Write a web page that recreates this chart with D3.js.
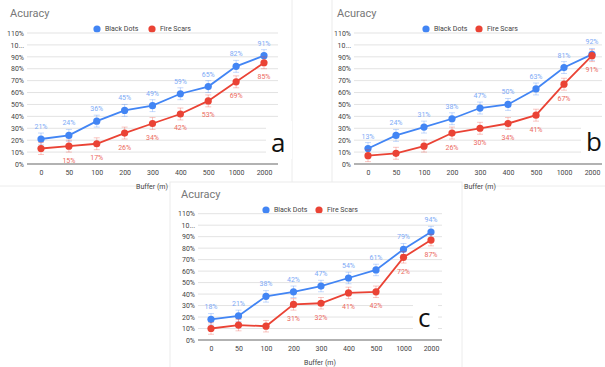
<!DOCTYPE html>
<html>
<head>
<meta charset="utf-8">
<script src="https://cdn.jsdelivr.net/npm/d3@7"></script>
<style>
  body { margin: 0; background: #fff; }
  svg { display: block; font-family: Roboto, Arial, sans-serif; }
</style>
</head>
<body>
<svg id="chart" width="605" height="367"></svg>
<script>
// Buffer distances (x categories)
const buffers = ["0", "50", "100", "200", "300", "400", "500", "1000", "2000"];
const yTicks = [0, 10, 20, 30, 40, 50, 60, 70, 80, 90, 100, 110];

// panel a
const dotsA = [21, 24, 36, 45, 49, 59, 65, 82, 91];
const scarsA = [13, 15, 17, 26, 34, 42, 53, 69, 85];
// panel b
const dotsB = [13, 24, 31, 38, 47, 50, 63, 81, 92];
const scarsB = [7, 9, 15, 26, 30, 34, 41, 67, 91];
// panel c
const dotsC = [18, 21, 38, 42, 47, 54, 61, 79, 94];
const scarsC = [10, 13, 12, 31, 32, 41, 42, 72, 87];

// which red labels are shown (google sheets hides colliding ones)
const scarLabelsA = [false, true, true, true, true, true, true, true, true];
const scarLabelsB = [false, false, false, true, true, true, true, true, true];
const scarLabelsC = [false, false, false, true, true, true, true, true, true];

const errHalf = 5; // half width of the faint error bars, in %

const blue = "#4285f4", red = "#ea4335";
const blueLbl = "#7eaaf6", redLbl = "#ec6a60";

const svg = d3.select("#chart");

function drawPanel(p) {
  const g = svg.append("g");

  // white backing for the panel
  g.append("rect")
    .attr("x", p.box[0]).attr("y", p.box[1])
    .attr("width", p.box[2]).attr("height", p.box[3])
    .attr("fill", "#fff").attr("stroke", "#ececec");

  const x = d3.scalePoint().domain(buffers).range(p.xRange);
  const y = d3.scaleLinear().domain([0, 110]).range(p.yRange);

  // title
  g.append("text")
    .attr("x", p.title[0]).attr("y", p.title[1])
    .attr("font-size", 11).attr("fill", "#777")
    .text("Acuracy");

  // legend
  const leg = g.append("g");
  [[blue, "Black Dots", p.legend[0]], [red, "Fire Scars", p.legend[1]]].forEach(function(l) {
    leg.append("circle").attr("cx", l[2]).attr("cy", p.legendY).attr("r", 3.6).attr("fill", l[0]);
    leg.append("text").attr("x", l[2] + 8).attr("y", p.legendY + 2.4)
      .attr("font-size", 7).attr("fill", "#444").text(l[1]);
  });

  // gridlines
  g.append("g")
    .selectAll("line")
    .data(yTicks.filter(t => t > 0))
    .enter().append("line")
      .attr("x1", p.grid[0]).attr("x2", p.grid[1])
      .attr("y1", d => y(d)).attr("y2", d => y(d))
      .attr("stroke", "#e3e3e3").attr("stroke-width", 1);

  // y axis labels
  const yAxis = g.append("g")
    .attr("transform", `translate(${p.grid[0] - 3},0)`)
    .call(d3.axisLeft(y).tickValues(yTicks).tickSize(0).tickPadding(0)
      .tickFormat(d => d === 100 ? "10..." : d + "%"));
  yAxis.select(".domain").remove();
  yAxis.selectAll("text").attr("font-size", 7).attr("fill", "#444").attr("font-family", "Roboto, Arial, sans-serif");

  // baseline
  g.append("line")
    .attr("x1", p.grid[0]).attr("x2", p.grid[1])
    .attr("y1", y(0)).attr("y2", y(0))
    .attr("stroke", "#999").attr("stroke-width", 1.5);

  // x axis labels
  const xAxis = g.append("g")
    .attr("transform", `translate(0,${y(0)})`)
    .call(d3.axisBottom(x).tickSize(0).tickPadding(6));
  xAxis.select(".domain").remove();
  xAxis.selectAll("text").attr("font-size", 7).attr("fill", "#444").attr("font-family", "Roboto, Arial, sans-serif");

  // x axis title
  g.append("text")
    .attr("x", p.xTitle[0]).attr("y", p.xTitle[1])
    .attr("text-anchor", "middle").attr("font-size", 7).attr("fill", "#444")
    .text("Buffer (m)");

  const line = d3.line().x((d, i) => x(buffers[i])).y(d => y(d));

  [[p.dots, blue, blueLbl, -1, null], [p.scars, red, redLbl, 1, p.scarLabels]].forEach(function(s) {
    const vals = s[0];
    const pts = vals.map((v, i) => ({ v: v, cat: buffers[i], show: s[4] === null || s[4][i] }));

    // faint error bars
    const eb = g.append("g").attr("stroke", s[1]).attr("stroke-opacity", 0.3).attr("stroke-width", 1);
    pts.forEach(function(d) {
      const cx = x(d.cat);
      eb.append("line").attr("x1", cx).attr("x2", cx).attr("y1", y(d.v - errHalf)).attr("y2", y(d.v + errHalf));
      eb.append("line").attr("x1", cx - 3).attr("x2", cx + 3).attr("y1", y(d.v - errHalf)).attr("y2", y(d.v - errHalf));
      eb.append("line").attr("x1", cx - 3).attr("x2", cx + 3).attr("y1", y(d.v + errHalf)).attr("y2", y(d.v + errHalf));
    });

    g.append("path").datum(vals)
      .attr("d", line).attr("fill", "none")
      .attr("stroke", s[1]).attr("stroke-width", 1.8);

    g.selectAll(null).data(pts).enter().append("circle")
      .attr("cx", d => x(d.cat)).attr("cy", d => y(d.v))
      .attr("r", 3.6).attr("fill", s[1]);

    g.selectAll(null).data(pts.filter(d => d.show)).enter()
      .append("text")
      .attr("x", d => x(d.cat))
      .attr("y", d => y(d.v) + (s[3] < 0 ? -10 : 16.5))
      .attr("text-anchor", "middle").attr("font-size", 7).attr("fill", s[2])
      .text(d => d.v + "%");
  });

  // letter tag on a white patch
  g.append("rect")
    .attr("x", p.tagBox[0]).attr("y", p.tagBox[1])
    .attr("width", p.tagBox[2]).attr("height", p.tagBox[3])
    .attr("fill", "#fff");
  g.append("text")
    .attr("x", p.tag[0]).attr("y", p.tag[1])
    .attr("font-size", 26).attr("fill", "#111")
    .attr("font-family", "'Open Sans', Arial, sans-serif")
    .text(p.letter);
}

drawPanel({
  box: [-1, -1, 293, 187],
  dots: dotsA, scars: scarsA, scarLabels: scarLabelsA,
  xRange: [41, 264], yRange: [164, 33],
  title: [10, 17], legend: [97, 152], legendY: 29,
  grid: [27, 278], xTitle: [152, 189],
  tagBox: [266, 121, 26, 38], tag: [271, 152], letter: "a"
});

drawPanel({
  box: [332, -1, 274, 187],
  dots: dotsB, scars: scarsB, scarLabels: scarLabelsB,
  xRange: [368, 592], yRange: [164, 33],
  title: [337, 17], legend: [426, 479], legendY: 29,
  grid: [354, 602], xTitle: [480, 189],
  tagBox: [581, 121, 24, 38], tag: [586, 151], letter: "b"
});

drawPanel({
  box: [170, 182, 292, 186],
  dots: dotsC, scars: scarsC, scarLabels: scarLabelsC,
  xRange: [211, 431], yRange: [340, 213.7],
  title: [181, 198], legend: [266, 319], legendY: 210,
  grid: [198, 442], xTitle: [320, 365],
  tagBox: [413, 297, 25, 36], tag: [418, 327], letter: "c"
});
</script>
</body>
</html>
